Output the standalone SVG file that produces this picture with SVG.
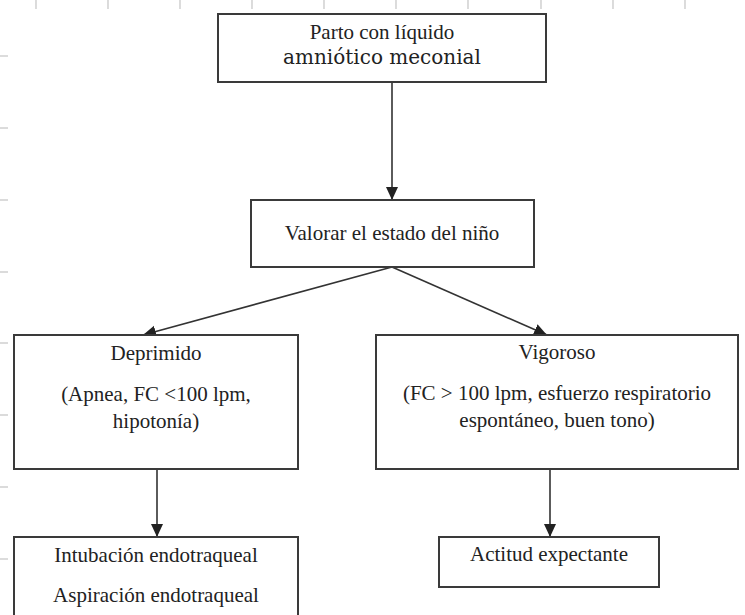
<svg xmlns="http://www.w3.org/2000/svg" width="745" height="615" viewBox="0 0 745 615">
  <style>
    .box { fill: #ffffff; stroke: #3a3a3a; stroke-width: 2; }
    .t { font-family: "Liberation Serif", "Times New Roman", serif; font-size: 21px; fill: #222222; text-anchor: middle; }
    .t2 { font-family: "DejaVu Serif", "Liberation Serif", serif; font-size: 20px; fill: #222222; text-anchor: middle; }
    .conn { stroke: #333333; stroke-width: 1.6; fill: none; marker-end: url(#arrow); }
    .tick { stroke: #c4c4c4; stroke-width: 1.2; }
  </style>
  <defs>
    <marker id="arrow" markerUnits="userSpaceOnUse" markerWidth="14" markerHeight="14" viewBox="0 0 14 14" refX="13" refY="7" orient="auto">
      <path d="M0,1 L13,7 L0,13 Z" fill="#222222"/>
    </marker>
  </defs>
  <rect width="745" height="615" fill="#ffffff"/>
  <g id="grid">
    <line class="tick" x1="36" y1="0" x2="36" y2="9"/>
    <line class="tick" x1="108" y1="0" x2="108" y2="9"/>
    <line class="tick" x1="180" y1="0" x2="180" y2="9"/>
    <line class="tick" x1="252" y1="0" x2="252" y2="9"/>
    <line class="tick" x1="324" y1="0" x2="324" y2="9"/>
    <line class="tick" x1="396" y1="0" x2="396" y2="9"/>
    <line class="tick" x1="468" y1="0" x2="468" y2="9"/>
    <line class="tick" x1="541" y1="0" x2="541" y2="9"/>
    <line class="tick" x1="613" y1="0" x2="613" y2="9"/>
    <line class="tick" x1="685" y1="0" x2="685" y2="9"/>
    <line class="tick" x1="0" y1="56" x2="8" y2="56"/>
    <line class="tick" x1="0" y1="128" x2="8" y2="128"/>
    <line class="tick" x1="0" y1="200" x2="8" y2="200"/>
    <line class="tick" x1="0" y1="272" x2="8" y2="272"/>
    <line class="tick" x1="0" y1="343" x2="8" y2="343"/>
    <line class="tick" x1="0" y1="415" x2="8" y2="415"/>
    <line class="tick" x1="0" y1="487" x2="8" y2="487"/>
    <line class="tick" x1="0" y1="559" x2="8" y2="559"/>
  </g>
  <g id="connectors">
    <line class="conn" x1="392" y1="82" x2="392" y2="200"/>
    <line class="conn" x1="392" y1="267" x2="143" y2="335"/>
    <line class="conn" x1="392" y1="267" x2="547" y2="335"/>
    <line class="conn" x1="157" y1="469" x2="157" y2="537"/>
    <line class="conn" x1="550" y1="469" x2="550" y2="537"/>
  </g>
  <g id="parto">
    <rect class="box" x="218" y="14" width="328" height="68"/>
    <text class="t" x="382" y="39">Parto con líquido</text>
    <text class="t2" x="382" y="64">amniótico meconial</text>
  </g>
  <g id="valorar">
    <rect class="box" x="251" y="200" width="283" height="67"/>
    <text class="t" x="392" y="240">Valorar el estado del niño</text>
  </g>
  <g id="deprimido">
    <rect class="box" x="14" y="335" width="284" height="134"/>
    <text class="t" x="156" y="360">Deprimido</text>
    <text class="t" x="156" y="401">(Apnea, FC &lt;100 lpm,</text>
    <text class="t" x="156" y="428">hipotonía)</text>
  </g>
  <g id="vigoroso">
    <rect class="box" x="376" y="335" width="362" height="134"/>
    <text class="t" x="557" y="359">Vigoroso</text>
    <text class="t" x="557" y="400">(FC &gt; 100 lpm, esfuerzo respiratorio</text>
    <text class="t" x="557" y="427">espontáneo, buen tono)</text>
  </g>
  <g id="intubacion">
    <rect class="box" x="14" y="537" width="284" height="95"/>
    <text class="t" x="156" y="562">Intubación endotraqueal</text>
    <text class="t" x="156" y="602">Aspiración endotraqueal</text>
  </g>
  <g id="actitud">
    <rect class="box" x="439" y="537" width="220" height="50"/>
    <text class="t" x="549" y="561">Actitud expectante</text>
  </g>
</svg>
